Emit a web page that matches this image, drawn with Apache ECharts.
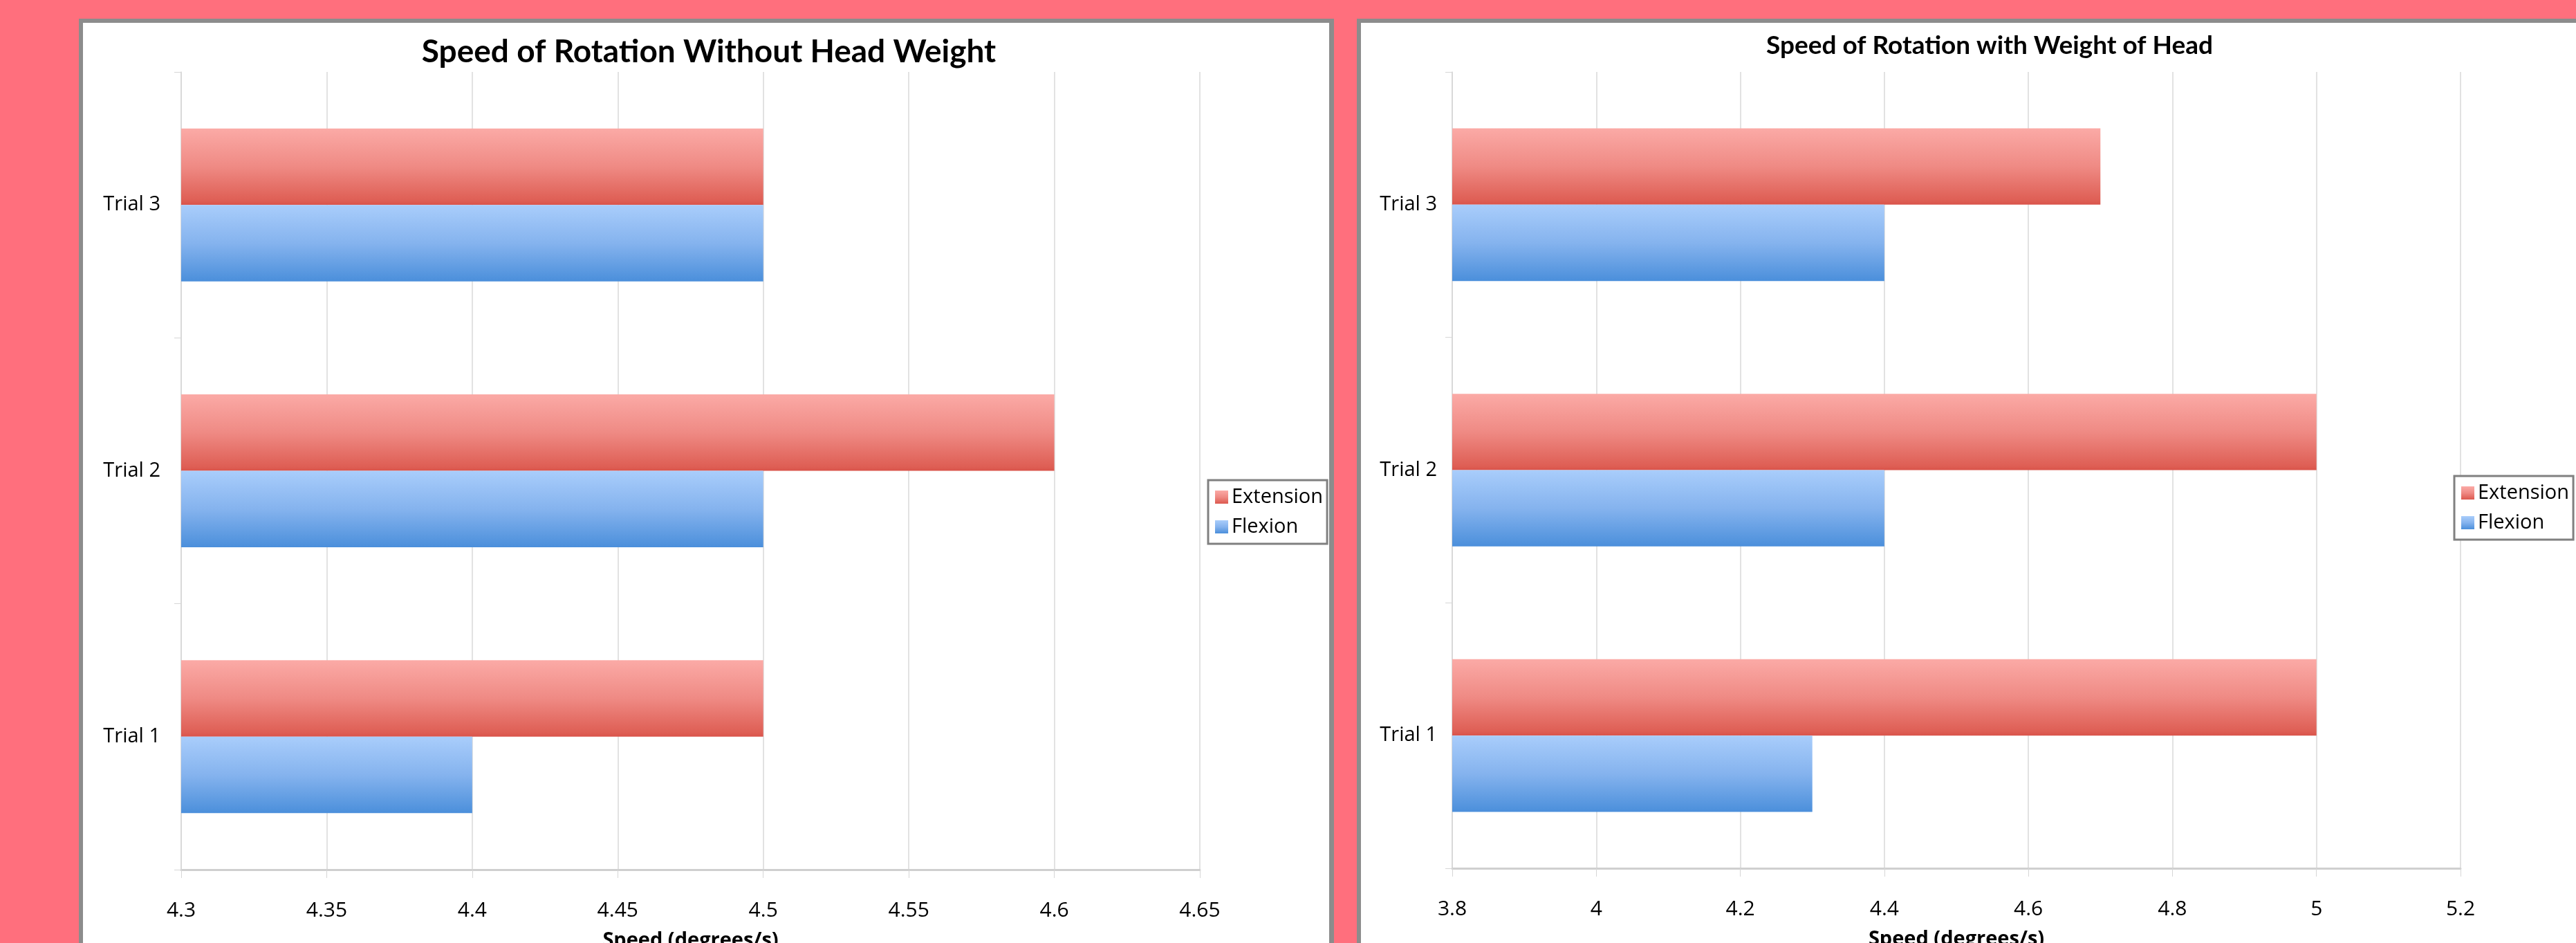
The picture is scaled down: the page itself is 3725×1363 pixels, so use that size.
<!DOCTYPE html>
<html>
<head>
<meta charset="utf-8">
<script src="https://cdn.jsdelivr.net/npm/echarts@6/dist/echarts.min.js"></script>
<style>
html,body{margin:0;padding:0;background:#ff6f7d;}
#c{width:3725px;height:1363px;}
</style>
</head>
<body>
<div id="c"></div>
<script>
// Data
const categories = ['Trial 1', 'Trial 2', 'Trial 3'];
const leftTitle = 'Speed of Rotation Without Head Weight';
const rightTitle = 'Speed of Rotation with Weight of Head';
const axisName = 'Speed (degrees/s)';
const leftExtension = [4.5, 4.6, 4.5];
const leftFlexion = [4.4, 4.5, 4.5];
const rightExtension = [5.0, 5.0, 4.7];
const rightFlexion = [4.3, 4.4, 4.4];
const leftTicks = {min: 4.3, max: 4.65, interval: 0.05};
const rightTicks = {min: 3.8, max: 5.2, interval: 0.2};

const FONT = 'Open Sans';
const extColor = new echarts.graphic.LinearGradient(0, 0, 0, 1, [
  {offset: 0, color: '#fbaaa6'},
  {offset: 0.5, color: '#ef8a84'},
  {offset: 0.95, color: '#de5e54'},
  {offset: 1, color: '#d9534a'}
]);
const flexColor = new echarts.graphic.LinearGradient(0, 0, 0, 1, [
  {offset: 0, color: '#a9cdfb'},
  {offset: 0.5, color: '#85b3ee'},
  {offset: 1, color: '#4b8fdb'}
]);

function xAx(idx, t) {
  return {
    type: 'value', gridIndex: idx, min: t.min, max: t.max, interval: t.interval,
    name: axisName, nameLocation: 'middle', nameGap: 88,
    nameTextStyle: {fontFamily: FONT, fontSize: 29, fontWeight: 'bold', color: '#000'},
    axisLine: {show: true, lineStyle: {color: '#cfcfcf', width: 3}},
    axisTick: {show: true, length: 12, lineStyle: {color: '#d6d6d6'}},
    axisLabel: {fontFamily: FONT, fontSize: 30, color: '#000', margin: 44},
    splitLine: {show: true, lineStyle: {color: '#d9d9d9', width: 1.5}}
  };
}
function yAx(idx, margin) {
  return {
    type: 'category', gridIndex: idx, data: categories,
    axisLine: {show: true, lineStyle: {color: '#d6d6d6', width: 1.5}},
    axisTick: {show: true, length: 10, lineStyle: {color: '#d6d6d6'}},
    axisLabel: {fontFamily: FONT, fontSize: 29, color: '#000', margin: margin},
    splitLine: {show: false}
  };
}
function legendOf(left, top) {
  return {
    left: left, top: top, orient: 'vertical',
    data: ['Extension', 'Flexion'],
    itemWidth: 19, itemHeight: 19, itemGap: 14,
    padding: [10, 6, 10, 10],
    borderColor: '#808080', borderWidth: 3, backgroundColor: '#fff',
    textStyle: {fontFamily: FONT, fontSize: 29, color: '#000'},
    icon: 'rect'
  };
}

const chart = echarts.init(document.getElementById('c'));
chart.setOption({
  backgroundColor: '#ff6f7d',
  animation: false,
  graphic: [
    {type: 'rect', z: -10, shape: {x: 114, y: 27, width: 1815, height: 1400}, style: {fill: '#8c8c8c'}},
    {type: 'rect', z: -9, shape: {x: 120, y: 33, width: 1802, height: 1400}, style: {fill: '#ffffff'}},
    {type: 'rect', z: -10, shape: {x: 1962, y: 27, width: 1800, height: 1400}, style: {fill: '#8c8c8c'}},
    {type: 'rect', z: -9, shape: {x: 1968, y: 33, width: 1800, height: 1400}, style: {fill: '#ffffff'}}
  ],
  title: [
    {text: leftTitle, left: 1020, top: 47, textAlign: 'center',
     textStyle: {fontFamily: 'Lato', fontWeight: 'bold', fontSize: 46, color: '#000'}},
    {text: rightTitle, left: 2872, top: 43, textAlign: 'center',
     textStyle: {fontFamily: 'Lato', fontWeight: 'bold', fontSize: 37, color: '#000'}}
  ],
  legend: [legendOf(1747, 694), legendOf(3549, 688)],
  grid: [
    {left: 262, top: 104, width: 1473, height: 1153, outerBoundsMode: 'none', containLabel: false},
    {left: 2100, top: 104, width: 1458, height: 1151, outerBoundsMode: 'none', containLabel: false}
  ],
  xAxis: [xAx(0, leftTicks), xAx(1, rightTicks)],
  yAxis: [yAx(0, 30), yAx(1, 22)],
  series: [
    {name: 'Extension', type: 'bar', xAxisIndex: 0, yAxisIndex: 0, data: leftExtension,
     itemStyle: {color: extColor}, barGap: '0%', barCategoryGap: '42.5%'},
    {name: 'Flexion', type: 'bar', xAxisIndex: 0, yAxisIndex: 0, data: leftFlexion,
     itemStyle: {color: flexColor}, barGap: '0%', barCategoryGap: '42.5%'},
    {name: 'Extension', type: 'bar', xAxisIndex: 1, yAxisIndex: 1, data: rightExtension,
     itemStyle: {color: extColor}, barGap: '0%', barCategoryGap: '42.5%'},
    {name: 'Flexion', type: 'bar', xAxisIndex: 1, yAxisIndex: 1, data: rightFlexion,
     itemStyle: {color: flexColor}, barGap: '0%', barCategoryGap: '42.5%'}
  ]
});
</script>
</body>
</html>
